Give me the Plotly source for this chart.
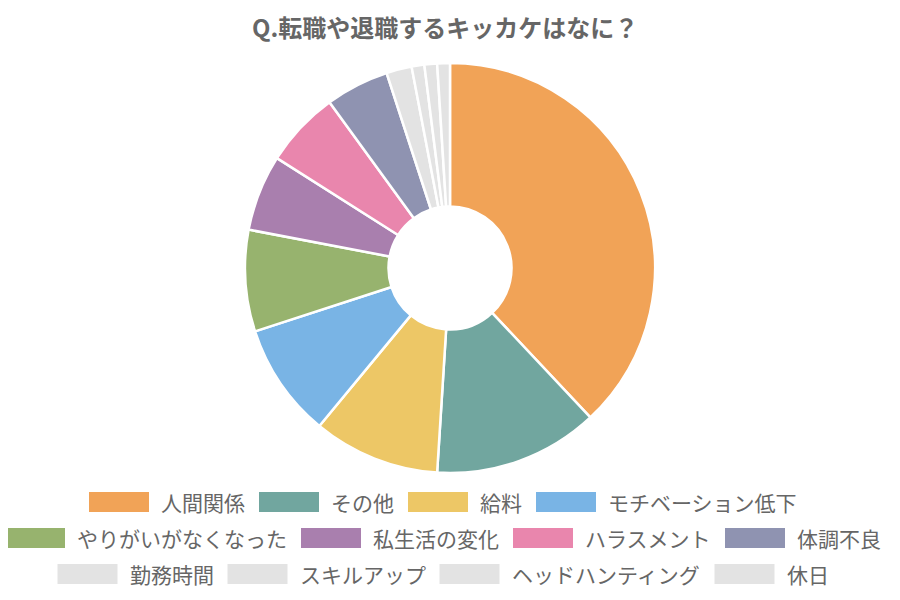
import plotly.graph_objects as go

labels = ["人間関係", "その他", "給料", "モチベーション低下", "やりがいがなくなった",
          "私生活の変化", "ハラスメント", "体調不良", "勤務時間", "スキルアップ",
          "ヘッドハンティング", "休日"]
values = [38, 13, 10, 9, 8, 6, 6, 5, 2, 1, 1, 1]
colors = ["#F1A357", "#71A69F", "#EDC766", "#79B4E5", "#97B36E", "#A97FAE",
          "#E986AD", "#8F93B1", "#E3E3E3", "#E3E3E3", "#E3E3E3", "#E3E3E3"]
title_text = "Q.転職や退職するキッカケはなに？"

W, H = 900, 600
OX, OY = 8, 8  # page body margin
FONT = "Noto Sans CJK JP, Noto Sans, sans-serif"
TXT = "#666666"


def px(x):
    return (x - OX) / W


def py(y):
    return 1 - (y - OY) / H


fig = go.Figure(go.Pie(
    labels=labels, values=values, sort=False, direction="clockwise", rotation=0,
    hole=0.3, textinfo="none", hoverinfo="label+value",
    marker=dict(colors=colors, line=dict(color="white", width=2.5)),
    domain=dict(x=[px(245), px(655)], y=[py(473), py(63)]),
    showlegend=False,
))

# custom legend (large colour boxes like the reference)
fs = 21
box_w, box_h, pad, gap = 60, 20, 10, 16
max_w = 890
items = [(lab, col, box_w + pad + len(lab) * fs) for lab, col in zip(labels, colors)]
rows, cur, cur_w = [], [], 0
for it in items:
    add = it[2] + (gap if cur else 0)
    if cur and cur_w + add > max_w:
        rows.append((cur, cur_w)); cur, cur_w = [], 0; add = it[2]
    cur.append(it); cur_w += add
rows.append((cur, cur_w))

shapes, annotations = [], []
row_y = [502, 538, 574]
cx = 442
for (row, rw), yc in zip(rows, row_y):
    x = cx - rw / 2
    for lab, col, w in row:
        shapes.append(dict(type="rect", xref="paper", yref="paper",
                           x0=px(x), x1=px(x + box_w),
                           y0=py(yc + box_h / 2), y1=py(yc - box_h / 2),
                           fillcolor=col, line=dict(width=0)))
        annotations.append(dict(x=px(x + box_w + pad), y=py(yc), xref="paper", yref="paper",
                                text=lab, showarrow=False, xanchor="left", yanchor="middle",
                                font=dict(size=fs, color=TXT, family=FONT)))
        x += w + gap

annotations.append(dict(x=px(445), y=py(27), xref="paper", yref="paper",
                        text="<b>" + title_text + "</b>", showarrow=False,
                        xanchor="center", yanchor="middle",
                        font=dict(size=24, color=TXT, family=FONT)))

fig.update_layout(width=W, height=H, margin=dict(l=0, r=0, t=0, b=0),
                  paper_bgcolor="white", plot_bgcolor="white",
                  shapes=shapes, annotations=annotations,
                  font=dict(family=FONT, color=TXT))
fig.write_html("out.html")
